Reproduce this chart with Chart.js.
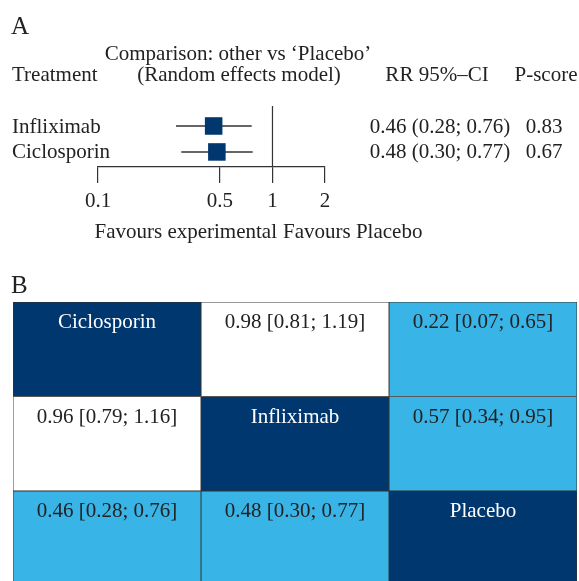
<!DOCTYPE html>
<html>
<head>
<meta charset="utf-8">
<script src="https://cdn.jsdelivr.net/npm/chart.js@4.4.0/dist/chart.umd.min.js"></script>
<style>
  body { margin: 0; background: #fff; }
  #wrap { position: relative; width: 579px; height: 581px; overflow: hidden; background: #fff; }
  #forest { position: absolute; left: 0; top: 0; }
  #league { position: absolute; left: 0; top: 260px; }
</style>
</head>
<body>
<div id="wrap">
  <canvas id="forest" width="579" height="260"></canvas>
  <canvas id="league" width="579" height="330"></canvas>
</div>
<script>
// panel A data: other vs Placebo
const forestTreatments = ['Infliximab', 'Ciclosporin'];
const forestRR = [0.46, 0.48];
const forestLo = [0.28, 0.30];
const forestHi = [0.76, 0.77];
const pScores = [0.83, 0.67];
const xTicks = [0.1, 0.5, 1, 2];

// panel B data: league table (row vs column)
const leagueTreatments = ['Ciclosporin', 'Infliximab', 'Placebo'];
const leagueRR = [[null, 0.98, 0.22], [0.96, null, 0.57], [0.46, 0.48, null]];
const leagueLo = [[null, 0.81, 0.07], [0.79, null, 0.34], [0.28, 0.30, null]];
const leagueHi = [[null, 1.19, 0.65], [1.16, null, 0.95], [0.76, 0.77, null]];

const FONT = '"Liberation Serif", "Times New Roman", serif';
const INK = '#222';
const NAVY = '#00376f';
const LIGHT = '#39b4e7';
const FS = 21;

Chart.defaults.font.family = FONT;
Chart.defaults.color = INK;

const yTop = 0.23, yBottom = 2.58;

function fmt(v) { return v.toFixed(2); }

// texts around the forest plot
const forestText = {
    id: 'forestText',
    afterDraw(chart) {
        const ctx = chart.ctx;
        const ys = chart.scales.y;
        ctx.save();
        ctx.fillStyle = INK;
        ctx.textBaseline = 'alphabetic';
        ctx.font = '25px ' + FONT;
        ctx.textAlign = 'left';
        ctx.fillText('A', 11, 34);

        ctx.font = FS + 'px ' + FONT;
        ctx.textAlign = 'center';
        ctx.fillText('Comparison: other vs \u2018Placebo\u2019', 238, 60);
        ctx.fillText('(Random effects model)', 239, 81);
        ctx.fillText('RR 95%\u2013CI', 437, 81);
        ctx.fillText('P-score', 546, 81);
        ctx.textAlign = 'left';
        ctx.fillText('Treatment', 12, 81);

        ctx.textBaseline = 'middle';
        forestTreatments.forEach((t, i) => {
            const y = ys.getPixelForValue(i + 1) + 1;
            ctx.textAlign = 'left';
            ctx.fillText(t, 12, y);
            ctx.textAlign = 'center';
            ctx.fillText(fmt(forestRR[i]) + ' (' + fmt(forestLo[i]) + '; ' + fmt(forestHi[i]) + ')', 440, y);
            ctx.fillText(fmt(pScores[i]), 544, y);
        });

        ctx.textBaseline = 'alphabetic';
        ctx.textAlign = 'right';
        ctx.fillText('Favours experimental', 277, 238);
        ctx.textAlign = 'left';
        ctx.fillText('Favours Placebo', 283, 238);
        ctx.restore();
    }
};

const ciSets = forestTreatments.map((t, i) => ({
    type: 'line',
    label: t + ' CI',
    data: [{ x: forestLo[i], y: i + 1 }, { x: forestHi[i], y: i + 1 }],
    borderColor: '#333',
    borderWidth: 1.5,
    pointRadius: 0,
    order: 2
}));

new Chart(document.getElementById('forest'), {
    type: 'scatter',
    data: {
        datasets: [
            {
                label: 'RR',
                data: forestRR.map((v, i) => ({ x: v, y: i + 1 })),
                pointStyle: 'rect',
                pointRadius: 12.4,
                backgroundColor: NAVY,
                borderColor: NAVY,
                borderWidth: 0,
                order: 0
            },
            ...ciSets,
            {
                type: 'line',
                label: 'no effect',
                data: [{ x: 1, y: yTop }, { x: 1, y: yBottom }],
                borderColor: '#333',
                borderWidth: 1.2,
                pointRadius: 0,
                order: 3
            }
        ]
    },
    options: {
        responsive: false,
        animation: false,
        devicePixelRatio: 1,
        layout: { padding: { left: 98, right: 254, top: 106, bottom: 0 } },
        plugins: { legend: { display: false }, tooltip: { enabled: false } },
        scales: {
            x: {
                type: 'logarithmic',
                min: 0.1,
                max: 2,
                afterBuildTicks: s => { s.ticks = xTicks.map(v => ({ value: v })); },
                afterFit: s => { s.height = 93; },
                ticks: {
                    autoSkip: false,
                    maxRotation: 0,
                    padding: 6,
                    color: INK,
                    font: { size: FS },
                    callback: v => String(v)
                },
                grid: { drawOnChartArea: false, drawTicks: true, tickLength: 16, color: '#333', lineWidth: 1.2 },
                border: { display: true, color: '#333', width: 1.2 }
            },
            y: { type: 'linear', reverse: true, min: yTop, max: yBottom, display: false }
        }
    },
    plugins: [forestText]
});

// league table as stacked bars, one dataset per column
function cellColor(i, j) {
    if (i === j) return NAVY;
    return (leagueLo[i][j] > 1 || leagueHi[i][j] < 1) ? LIGHT : '#ffffff';
}

const leagueText = {
    id: 'leagueText',
    afterDraw(chart) {
        const ctx = chart.ctx;
        ctx.save();
        ctx.fillStyle = INK;
        ctx.font = '25px ' + FONT;
        ctx.textAlign = 'left';
        ctx.textBaseline = 'alphabetic';
        ctx.fillText('B', 11, 33);
        ctx.font = FS + 'px ' + FONT;
        ctx.textAlign = 'center';
        chart.data.datasets.forEach((ds, j) => {
            chart.getDatasetMeta(j).data.forEach((bar, i) => {
                const cx = (bar.x + bar.base) / 2;
                const top = bar.y - bar.height / 2;
                let label;
                if (i === j) {
                    label = leagueTreatments[i];
                    ctx.fillStyle = '#fff';
                } else {
                    label = fmt(leagueRR[i][j]) + ' [' + fmt(leagueLo[i][j]) + '; ' + fmt(leagueHi[i][j]) + ']';
                    ctx.fillStyle = INK;
                }
                ctx.fillText(label, cx, top + 26);
            });
        });
        ctx.restore();
    }
};

new Chart(document.getElementById('league'), {
    type: 'bar',
    data: {
        labels: leagueTreatments,
        datasets: leagueTreatments.map((t, j) => ({
            label: t,
            data: leagueTreatments.map(() => 1),
            backgroundColor: leagueTreatments.map((r, i) => cellColor(i, j)),
            borderColor: '#333',
            borderWidth: 0.8,
            borderSkipped: false
        }))
    },
    options: {
        indexAxis: 'y',
        responsive: false,
        animation: false,
        devicePixelRatio: 1,
        layout: { padding: { left: 13, right: 2, top: 42, bottom: 4.5 } },
        plugins: { legend: { display: false }, tooltip: { enabled: false } },
        datasets: { bar: { categoryPercentage: 1, barPercentage: 1 } },
        scales: {
            x: { stacked: true, min: 0, max: 3, display: false },
            y: { stacked: true, display: false }
        }
    },
    plugins: [leagueText]
});
</script>
</body>
</html>
